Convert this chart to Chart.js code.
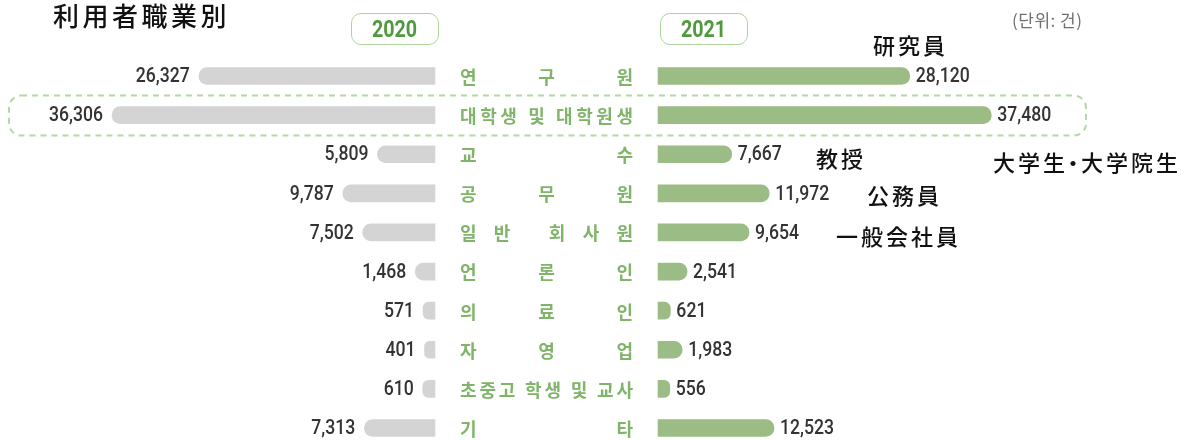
<!DOCTYPE html>
<html>
<head>
<meta charset="utf-8">
<script src="https://cdn.jsdelivr.net/npm/chart.js@4.4.0/dist/chart.umd.min.js"></script>
<style>
html, body { margin: 0; padding: 0; background: #fff; }
#wrap { position: relative; width: 1195px; height: 440px; overflow: hidden; }
#wrap canvas { position: absolute; left: 0; top: 0; }
.note { position: absolute; font-family: "Noto Sans CJK JP"; font-weight: 500; font-size: 22px; line-height: 22px;
        letter-spacing: 3px; color: #111; white-space: nowrap; }
.title { font-size: 26px; line-height: 26px; letter-spacing: 3.5px; }
.dot { margin: 0 -6px; }
.pill { position: absolute; top: 13px; width: 86px; height: 30px; border: 1.5px solid #aed39c;
        border-radius: 10px; text-align: center; line-height: 30px; }
.pill span { display: inline-block; transform: scaleX(0.82); font-family: Roboto; font-weight: 700;
             font-size: 24px; color: #4f9a3e; }
.unit { position: absolute; left: 1012px; top: 10px; font-family: "Noto Sans CJK KR"; font-size: 17px;
        line-height: 20px; letter-spacing: 0.5px; color: #707070; white-space: nowrap; }
</style>
</head>
<body>
<div id="wrap">
  <canvas id="left" width="1195" height="440"></canvas>
  <canvas id="right" width="1195" height="440"></canvas>
  <div class="note title" style="left:53px;top:2px;">利用者職業別</div>
  <div class="pill" style="left:351px;"><span>2020</span></div>
  <div class="pill" style="left:660px;"><span>2021</span></div>
  <div class="unit">(단위: 건)</div>
  <div class="note" style="left:873px;top:33px;">研究員</div>
  <div class="note" style="left:816px;top:146px;">教授</div>
  <div class="note" style="left:993px;top:150px;">大学生<span class="dot">・</span>大学院生</div>
  <div class="note" style="left:867px;top:183px;">公務員</div>
  <div class="note" style="left:836px;top:224px;">一般会社員</div>
</div>
<script>
'use strict';

var categories = ['연구원', '대학생 및 대학원생', '교수', '공무원', '일반 회사원',
                  '언론인', '의료인', '자영업', '초중고 학생 및 교사', '기타'];
var values2020 = [26327, 36306, 5809, 9787, 7502, 1468, 571, 401, 610, 7313];
var values2021 = [28120, 37480, 7667, 11972, 9654, 2541, 621, 1983, 556, 12523];

// bars start a little before zero, like the printed chart
var BASE = -800;

function fmt(v) {
  return v.toLocaleString('en-US');
}

function drawNum(ctx, text, x, y, align) {
  ctx.save();
  ctx.translate(x, y);
  ctx.scale(0.84, 1);
  ctx.font = '500 21px Roboto';
  ctx.fillStyle = '#333';
  ctx.textAlign = align;
  ctx.textBaseline = 'middle';
  ctx.fillText(text, 0, 1);
  ctx.restore();
}

// category names spread across the middle column
function drawCategory(ctx, label, left, right, y) {
  ctx.save();
  ctx.font = 'bold 18px "Noto Sans CJK KR"';
  ctx.fillStyle = '#80b468';
  ctx.textBaseline = 'middle';
  var w = right - left;
  var full = ctx.measureText(label).width;
  if (full >= w - 20) {
    ctx.translate(left, y);
    ctx.scale(Math.min(1, w / full), 1);
    ctx.fillText(label, 0, 1);
  } else {
    var chars = Array.from(label);
    var widths = chars.map(function (c) { return ctx.measureText(c).width; });
    var sum = widths.reduce(function (a, b) { return a + b; }, 0);
    var gap = (w - sum) / (chars.length - 1);
    var x = left;
    chars.forEach(function (c, i) {
      ctx.fillText(c, x, y + 1);
      x += widths[i] + gap;
    });
  }
  ctx.restore();
}

var leftLabels = {
  id: 'leftLabels',
  afterDatasetsDraw: function (chart) {
    var meta = chart.getDatasetMeta(0);
    meta.data.forEach(function (bar, i) {
      drawNum(chart.ctx, fmt(values2020[i]), bar.x - 9, bar.y, 'right');
    });
  }
};

var rightLabels = {
  id: 'rightLabels',
  beforeDatasetsDraw: function (chart) {
    var ctx = chart.ctx;
    var y = chart.scales.y.getPixelForValue(1);
    ctx.save();
    ctx.strokeStyle = '#b4d7a3';
    ctx.lineWidth = 2;
    ctx.setLineDash([6, 5]);
    ctx.beginPath();
    ctx.roundRect(9, y - 19.5, 1077, 40, 12);
    ctx.stroke();
    ctx.restore();
  },
  afterDatasetsDraw: function (chart) {
    var ctx = chart.ctx;
    var meta = chart.getDatasetMeta(0);
    meta.data.forEach(function (bar, i) {
      drawNum(ctx, fmt(values2021[i]), bar.x + 6, bar.y, 'left');
      drawCategory(ctx, categories[i], 460, 633, bar.y);
    });
  }
};

new Chart(document.getElementById('left'), {
  type: 'bar',
  data: {
    labels: categories,
    datasets: [{
      label: '2020',
      data: values2020,
      backgroundColor: '#d4d4d4',
      borderRadius: 9,
      borderSkipped: 'start',
      barThickness: 17,
      base: BASE,
      clip: false
    }]
  },
  options: {
    indexAxis: 'y',
    responsive: false,
    animation: false,
    layout: { padding: { left: 5, right: 760, top: 76, bottom: 12 } },
    scales: {
      x: { display: false, reverse: true, min: BASE, max: 48600 },
      y: { display: false, offset: false }
    },
    plugins: { legend: { display: false }, tooltip: { enabled: false } }
  },
  plugins: [leftLabels]
});

new Chart(document.getElementById('right'), {
  type: 'bar',
  data: {
    labels: categories,
    datasets: [{
      label: '2021',
      data: values2021,
      backgroundColor: '#9bbc84',
      borderRadius: 9,
      borderSkipped: 'start',
      barThickness: 17,
      base: BASE,
      clip: false
    }]
  },
  options: {
    indexAxis: 'y',
    responsive: false,
    animation: false,
    layout: { padding: { left: 658, right: 5, top: 76, bottom: 12 } },
    scales: {
      x: { display: false, min: BASE, max: 60300 },
      y: { display: false, offset: false }
    },
    plugins: { legend: { display: false }, tooltip: { enabled: false } }
  },
  plugins: [rightLabels]
});
</script>
</body>
</html>
